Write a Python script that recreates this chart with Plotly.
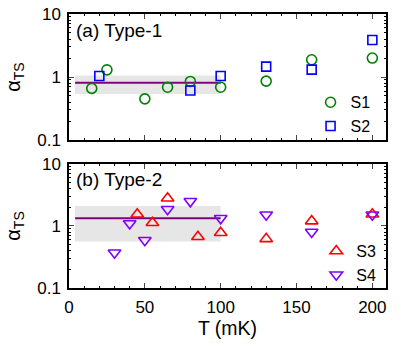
import plotly.graph_objects as go

# panel (a) Type-1
t_s1 = [15, 25, 50, 65, 80, 100, 130, 160, 200]
a_s1 = [0.66, 1.3, 0.45, 0.69, 0.85, 0.69, 0.86, 1.88, 2.0]
t_s2 = [20, 80, 100, 130, 160, 200]
a_s2 = [1.04, 0.61, 1.04, 1.46, 1.31, 3.87]
mean_a = 0.81
band_a = [0.54, 1.06]

# panel (b) Type-2
t_s3 = [45, 55, 65, 85, 100, 130, 160, 200]
a_s3 = [1.55, 1.13, 2.8, 0.67, 0.78, 0.62, 1.2, 1.55]
t_s4 = [30, 40, 50, 65, 80, 100, 130, 160, 200]
a_s4 = [0.37, 1.1, 0.59, 1.86, 2.5, 1.33, 1.52, 0.8, 1.52]
mean_b = 1.33
band_b = [0.56, 2.1]

band_t = [4, 100]

FONT = "Liberation Sans, Arial, sans-serif"
fig = go.Figure()


def add_band(band, mean, xa, ya):
    fig.add_trace(go.Scatter(
        x=[band_t[0], band_t[1], band_t[1], band_t[0], band_t[0]],
        y=[band[0], band[0], band[1], band[1], band[0]],
        fill="toself", fillcolor="#e6e6e6", line=dict(width=0),
        mode="lines", showlegend=False, hoverinfo="skip", xaxis=xa, yaxis=ya))
    fig.add_trace(go.Scatter(
        x=band_t, y=[mean, mean], mode="lines",
        line=dict(color="#800080", width=2), showlegend=False,
        xaxis=xa, yaxis=ya))


add_band(band_a, mean_a, "x", "y")
add_band(band_b, mean_b, "x2", "y2")

mk = dict(line=dict(width=1.6))
fig.add_trace(go.Scatter(x=t_s1, y=a_s1, mode="markers", name="S1",
                         marker=dict(symbol="circle-open", size=10, color="#008000", **mk),
                         xaxis="x", yaxis="y", legend="legend"))
fig.add_trace(go.Scatter(x=t_s2, y=a_s2, mode="markers", name="S2",
                         marker=dict(symbol="square-open", size=9, color="#0000ff", **mk),
                         xaxis="x", yaxis="y", legend="legend"))
fig.add_trace(go.Scatter(x=t_s3, y=a_s3, mode="markers", name="S3",
                         marker=dict(symbol="triangle-up-open", size=11, color="#ff0000", **mk),
                         xaxis="x2", yaxis="y2", legend="legend2"))
fig.add_trace(go.Scatter(x=t_s4, y=a_s4, mode="markers", name="S4",
                         marker=dict(symbol="triangle-down-open", size=11, color="#8000ff", **mk),
                         xaxis="x2", yaxis="y2", legend="legend2"))

xcommon = dict(range=[0, 209], tickvals=[0, 50, 100, 150, 200], ticks="inside",
               ticklen=5, tickwidth=1.2, mirror="allticks", showline=True,
               linecolor="black", linewidth=1.5, showgrid=False, zeroline=False,
               minor=dict(dtick=10, ticks="inside", ticklen=2.5, tickcolor="black",
                          tickwidth=1, showgrid=False),
               tickfont=dict(size=17), automargin=False)
ycommon = dict(type="log", range=[-1, 1], tickvals=[0.1, 1, 10],
               ticktext=["0.1", "1", "10"], ticks="inside", ticklen=5, tickwidth=1.2,
               mirror="allticks", showline=True, linecolor="black", linewidth=1.5,
               showgrid=False, zeroline=False,
               minor=dict(dtick="D1", ticks="inside", ticklen=2.5, tickcolor="black",
                          tickwidth=1, showgrid=False),
               tickfont=dict(size=17), ticklabelstandoff=3, automargin=False,
               title=dict(text="α<sub>TS</sub>", font=dict(size=20), standoff=11))

leg = dict(bgcolor="rgba(0,0,0,0)", font=dict(size=16), tracegroupgap=0,
           itemwidth=30, xanchor="left", yanchor="bottom")

fig.update_layout(
    width=402, height=347,
    margin=dict(l=69, r=16, t=14, b=59),
    paper_bgcolor="white", plot_bgcolor="white",
    font=dict(family=FONT, color="black", size=16),
    xaxis=dict(domain=[0, 1], anchor="y", showticklabels=False, **xcommon),
    yaxis=dict(domain=[0.54, 1], anchor="x", **ycommon),
    xaxis2=dict(domain=[0, 1], anchor="y2", ticklabelstandoff=3,
                title=dict(text="T (mK)", font=dict(size=19.5), standoff=3), **xcommon),
    yaxis2=dict(domain=[0, 0.4526], anchor="x2", **ycommon),
    legend=dict(x=0.762, y=0.528, **leg),
    legend2=dict(x=0.78, y=-0.015, **leg),
    annotations=[
        dict(text="(a) Type-1", x=0.015, y=0.985, xref="paper", yref="paper",
             xanchor="left", yanchor="top", showarrow=False, font=dict(size=19)),
        dict(text="(b) Type-2", x=0.015, y=0.44, xref="paper", yref="paper",
             xanchor="left", yanchor="top", showarrow=False, font=dict(size=19)),
    ],
)

# drop the default page margin so the figure sits at the window origin
fig.write_html("out.html", config={"displayModeBar": False},
               post_script="document.body.style.margin='0';")
